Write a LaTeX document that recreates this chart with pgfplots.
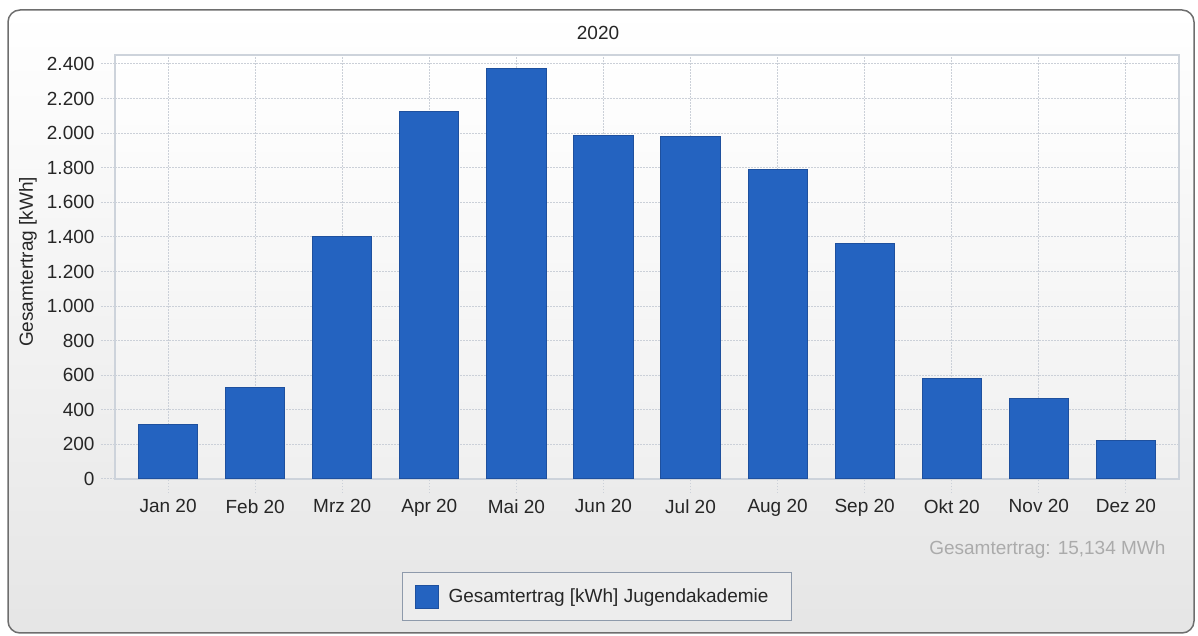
\documentclass[border=0pt]{standalone}
\usepackage{pgfplots}
\pgfplotsset{compat=1.18}
\usepackage{fontspec}
\setmainfont{Liberation Sans}
\definecolor{barblue}{HTML}{2463C0}
\definecolor{baredge}{HTML}{1E509E}
\definecolor{gridc}{HTML}{CBD0D8}
\definecolor{framec}{HTML}{CDD3DB}
\definecolor{panelborder}{HTML}{6E6E6E}
\definecolor{legborder}{HTML}{8E9AAB}
\definecolor{sumgray}{HTML}{ABABAB}
\newcommand{\chartfont}{\fontsize{19pt}{23pt}\selectfont}

\begin{document}
\chartfont
\begin{tikzpicture}
\path[use as bounding box] (0pt,0pt) rectangle (1198pt,636pt);
% outer panel
\shade[top color=white, bottom color=black!10, rounded corners=12pt]
    (8pt,3pt) rectangle (1194pt,626pt);
\draw[panelborder, line width=1.5pt, rounded corners=12pt]
    (8pt,3pt) rectangle (1194pt,626pt);

\begin{axis}[
    at={(115pt,157pt)}, anchor=south west, scale only axis,
    width=1064pt, height=424pt,
    xmin=-0.61, xmax=11.61, ymin=0, ymax=2452,
    ybar, bar width=0.68,
    xtick={0,...,11},
    xticklabels={Jan 20, Feb 20, Mrz 20, Apr 20, Mai 20, Jun 20,
                 Jul 20, Aug 20, Sep 20, Okt 20, Nov 20, Dez 20},
    ytick={0,200,...,2400},
    xtick pos=lower, ytick pos=left,
    grid=major,
    grid style={gridc, dash pattern=on 1.5pt off 1.5pt, line width=1pt},
    tick style={gridc, dash pattern=on 1.5pt off 1.5pt, line width=1pt},
    tick align=outside, major tick length=14pt,
    axis line style={framec, line width=1.5pt},
    /pgf/number format/1000 sep={.},
    /pgf/number format/assume math mode=true,
    ticklabel style={font=\chartfont, text=black!85},
    axis background/.style={shade, top color=white, bottom color=black!6},
    legend style={at={(0.453,-0.278)}, anchor=center,
        draw=legborder, line width=1pt, fill=black!7,
        font=\chartfont, text=black!85,
        inner xsep=12pt, inner ysep=12pt,
        /tikz/every odd column/.append style={column sep=8pt}},
]
\addplot[fill=barblue, draw=baredge, line width=1pt,
    legend image code/.code={\draw[fill=barblue, draw=baredge, line width=1pt]
        (0pt,-11.5pt) rectangle (23pt,11.5pt);}]
    coordinates {
    (0,318) (1,530) (2,1400) (3,2124) (4,2375) (5,1989)
    (6,1980) (7,1789) (8,1361) (9,580) (10,464) (11,222)
};
\addlegendentry{Gesamtertrag [kWh] Jugendakademie\hspace*{9pt}}
\end{axis}

\node[text=black!85] at (598pt,603pt) {2020};
\node[rotate=90, text=black!85] at (28pt,374pt) {Gesamtertrag [kWh]};
\node[anchor=base east, text=sumgray] at (1172pt,81pt) {Gesamtertrag: 15,134 MWh};
\end{tikzpicture}
\end{document}
